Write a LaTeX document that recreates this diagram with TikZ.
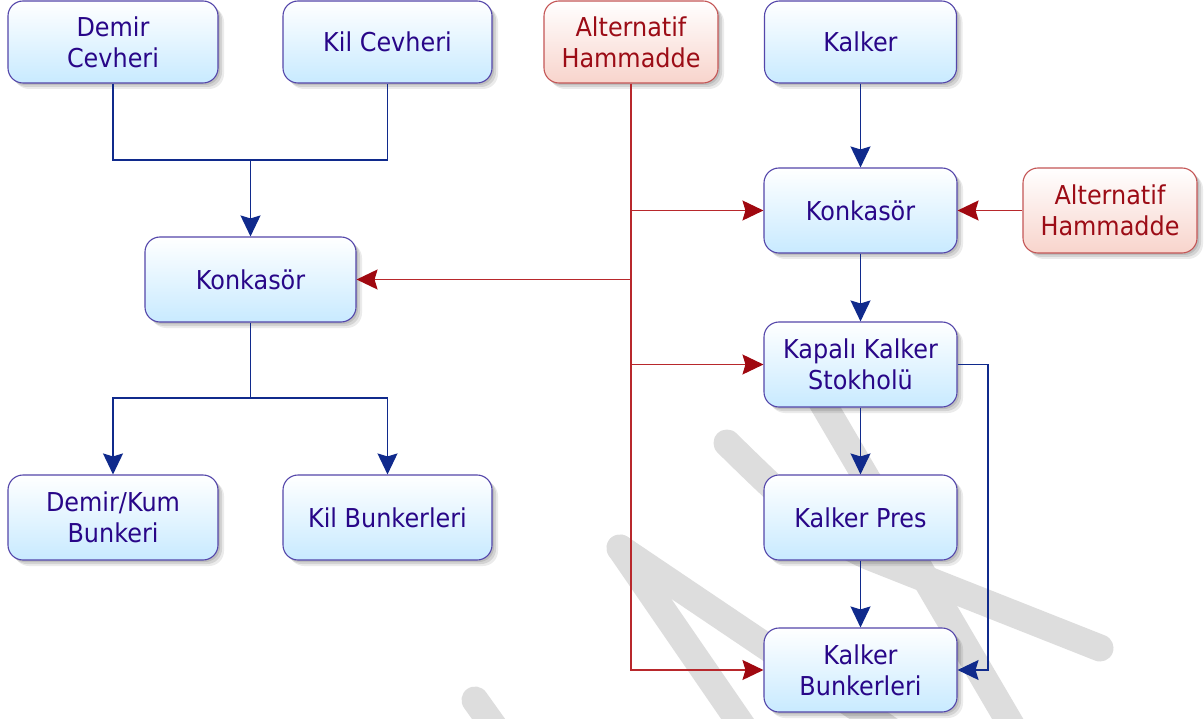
\documentclass[tikz,border=0pt]{standalone}
\usepackage{fontspec}
\setmainfont[FakeStretch=0.92]{DejaVu Sans}
\usetikzlibrary{arrows.meta,shadows,calc}
\definecolor{txtblue}{RGB}{40,6,136}
\definecolor{txtred}{RGB}{156,12,22}
\definecolor{bordblue}{RGB}{84,70,170}
\definecolor{bordred}{RGB}{196,86,86}
\definecolor{fillblue}{RGB}{200,234,255}
\definecolor{fillred}{RGB}{248,212,204}
\definecolor{lineblue}{RGB}{16,42,140}
\definecolor{linered}{RGB}{184,40,44}
\definecolor{tipred}{RGB}{160,8,16}
\definecolor{wmark}{RGB}{221,221,221}
\tikzset{
  box/.style={rectangle, rounded corners=15pt, draw=bordblue, line width=1.1pt,
    top color=white, bottom color=fillblue, align=center, inner sep=0pt,
    text=txtblue, font=\fontsize{26}{31}\selectfont,
    drop shadow={shadow xshift=6pt, shadow yshift=-6pt, opacity=0.08, fill=black},
    drop shadow={shadow xshift=4pt, shadow yshift=-4pt, opacity=0.10, fill=black},
    drop shadow={shadow xshift=2pt, shadow yshift=-2pt, opacity=0.10, fill=black}},
  redbox/.style={box, draw=bordred, bottom color=fillred, text=txtred},
  bline/.style={draw=lineblue, line width=1.4pt},
  barrow/.style={bline, -{Stealth[length=21pt, width=20pt, inset=3pt, fill=lineblue]}},
  rline/.style={draw=linered, line width=1.4pt},
  rarrow/.style={rline, -{Stealth[length=21pt, width=20pt, inset=3pt, fill=tipred, color=tipred]}},
  wm/.style={draw=wmark, line width=27pt, line cap=round, line join=round}
}
\begin{document}
\begin{tikzpicture}[x=1pt, y=-1pt]
\useasboundingbox (0,0) rectangle (1204,719);
\fill[white] (0,0) rectangle (1204,719);
% watermark
\draw[wm] (620,548) -- (752,740);
\draw[wm] (620,548) -- (890,730);
\draw[wm] (727,443) .. controls (800,515) and (830,540) .. (870,557) -- (1100,648);
\draw[wm] (812,385) -- (1020,740);
\draw[wm] (475,700) -- (500,735);
% nodes
\node[box, minimum width=210pt, minimum height=82pt] (demir) at (113,42) {Demir\\Cevheri};
\node[box, minimum width=209pt, minimum height=82pt] (kilc) at (387.5,42) {Kil Cevheri};
\node[redbox, minimum width=174pt, minimum height=82pt] (alt1) at (631,42) {Alternatif\\Hammadde};
\node[box, minimum width=192pt, minimum height=82pt] (kalker) at (860.5,42) {Kalker};
\node[box, minimum width=193pt, minimum height=85pt] (konkR) at (860.5,210.5) {Konkasör};
\node[redbox, minimum width=174pt, minimum height=85pt] (alt2) at (1110,210.5) {Alternatif\\Hammadde};
\node[box, minimum width=211pt, minimum height=85pt] (konkL) at (250.5,279.5) {Konkasör};
\node[box, minimum width=193pt, minimum height=85pt] (kapali) at (860.5,364.5) {Kapalı Kalker\\Stokholü};
\node[box, minimum width=193pt, minimum height=85pt] (pres) at (860.5,517.5) {Kalker Pres};
\node[box, minimum width=193pt, minimum height=84pt] (bunk) at (860.5,670) {Kalker\\Bunkerleri};
\node[box, minimum width=210pt, minimum height=85pt] (demkum) at (113,517.5) {Demir/Kum\\Bunkeri};
\node[box, minimum width=209pt, minimum height=85pt] (kilb) at (387.5,517.5) {Kil Bunkerleri};
% coordinates
\coordinate (j1) at (250.5,160);
\coordinate (j2) at (250.5,398);
\coordinate (r1) at (631,210.5);
\coordinate (r2) at (631,279.5);
\coordinate (r3) at (631,364.5);
\coordinate (k1) at (988,364.5);
% blue connectors
\draw[bline] (demir.south) |- (j1) -| (kilc.south);
\draw[barrow] (j1) -- (konkL.north);
\draw[bline] (konkL.south) -- (j2);
\draw[barrow] (j2) -| (demkum.north);
\draw[barrow] (j2) -| (kilb.north);
\draw[barrow] (kalker.south) -- (konkR.north);
\draw[barrow] (konkR.south) -- (kapali.north);
\draw[barrow] (kapali.south) -- (pres.north);
\draw[barrow] (pres.south) -- (bunk.north);
\draw[barrow] (kapali.east) -- (k1) |- (bunk.east);
% red connectors
\draw[rarrow] (alt1.south) |- (bunk.west);
\draw[rarrow] (r1) -- (konkR.west);
\draw[rarrow] (r2) -- (konkL.east);
\draw[rarrow] (r3) -- (kapali.west);
\draw[rarrow] (alt2.west) -- (konkR.east);
\end{tikzpicture}
\end{document}
